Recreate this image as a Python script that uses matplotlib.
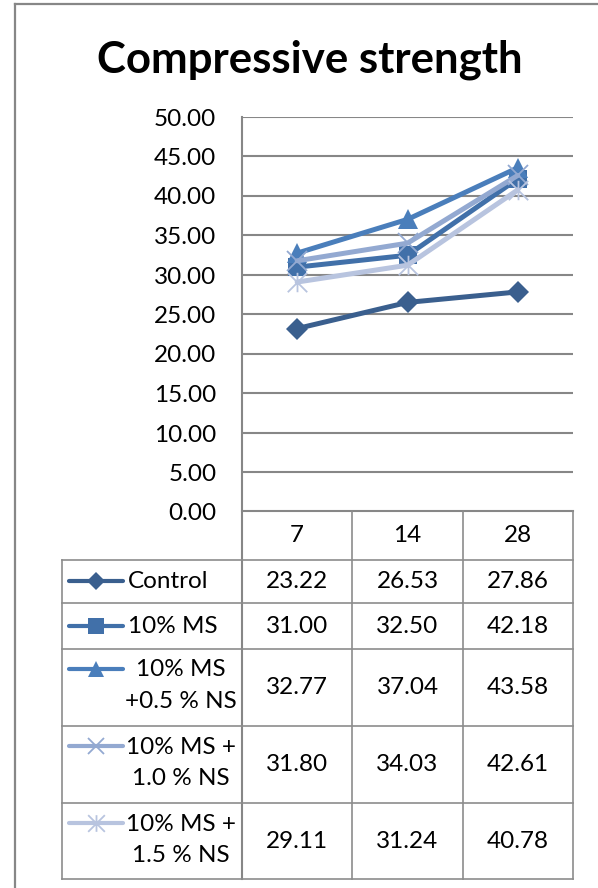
import matplotlib
matplotlib.use("Agg")
import matplotlib.pyplot as plt
from matplotlib.lines import Line2D
from matplotlib.path import Path

plt.rcParams['font.family'] = ['Lato', 'DejaVu Sans']

# ---- data ----
title = "Compressive strength"
categories = ["7", "14", "28"]
series_names = ["Control", "10% MS", "10% MS\n+0.5 % NS", "10% MS +\n1.0 % NS", "10% MS +\n1.5 % NS"]
control = [23.22, 26.53, 27.86]
ms10 = [31.00, 32.50, 42.18]
ms10_ns05 = [32.77, 37.04, 43.58]
ms10_ns10 = [31.80, 34.03, 42.61]
ms10_ns15 = [29.11, 31.24, 40.78]
yticks = [0, 5, 10, 15, 20, 25, 30, 35, 40, 45, 50]

series_values = [control, ms10, ms10_ns05, ms10_ns10, ms10_ns15]

# ---- styles ----
W, H = 598, 888
colors = ["#3A5F8E", "#4170A9", "#4A7EBB", "#93A9D1", "#B8C4DF"]
star = Path([(0, -0.5), (0, 0.5), (-0.5, -0.5), (0.5, 0.5), (-0.5, 0.5), (0.5, -0.5)],
            [Path.MOVETO, Path.LINETO, Path.MOVETO, Path.LINETO, Path.MOVETO, Path.LINETO])
markers = ["D", "s", "^", "x", star]
msizes = [11, 12.5, 14, 14, 14]
msizes_leg = [9, 11.5, 12, 12, 12]
mew = [0, 0, 0, 1.3, 1.3]
grid_c = "#878787"
tab_c = "#8C8C8C"
fs = 17.5


def fx(x):
    return x / W


def fy(y):
    return 1 - y / H


fig = plt.figure(figsize=(W / 100, H / 100), dpi=100)

# plot area
ax_l, ax_r, ax_t, ax_b = 242, 573, 117, 512
ax = fig.add_axes([fx(ax_l), fy(ax_b), (ax_r - ax_l) / W, (ax_b - ax_t) / H])
xs = list(range(len(categories)))
for vals, c, m, ms, ew in zip(series_values, colors, markers, msizes, mew):
    ax.plot(xs, vals, color=c, lw=3.6, marker=m, markersize=ms,
            markerfacecolor=c if ew == 0 else 'none', markeredgecolor=c,
            markeredgewidth=ew if ew else 0.0, solid_capstyle='round', solid_joinstyle='round')
ax.set_xlim(-0.5, len(categories) - 0.5)
ax.set_ylim(0, 50)
ax.set_yticks(yticks)
ax.set_yticklabels([f"{v:.2f}" for v in yticks], fontsize=fs)
ax.tick_params(axis='y', length=0, pad=18.5)
ax.set_xticks([])
for s in ax.spines.values():
    s.set_visible(False)
ax.grid(axis='y', color=grid_c, lw=1.5)
ax.set_axisbelow(True)

# title
fig.text(fx(310), fy(60), title, fontsize=31.5, fontweight='bold', ha='center', va='center')

# outer border
fig.add_artist(Line2D([fx(15), fx(15)], [fy(4), fy(888)], color=grid_c, lw=1.6))
fig.add_artist(Line2D([fx(15), fx(598)], [fy(4), fy(4)], color=grid_c, lw=1.6))

# table
col_x = [242, 352, 463, 573]
row_y = [511, 560, 603, 649, 726, 803, 879]
leg_l = 62


def hline(x0, x1, y, c=tab_c, lw=1.2):
    fig.add_artist(Line2D([fx(x0), fx(x1)], [fy(y), fy(y)], color=c, lw=lw))


def vline(x, y0, y1, c=tab_c, lw=1.2):
    fig.add_artist(Line2D([fx(x), fx(x)], [fy(y0), fy(y1)], color=c, lw=lw))


# y axis line
vline(242, ax_t, row_y[-1], c=grid_c, lw=1.5)
hline(col_x[0], col_x[-1], row_y[0], c=grid_c, lw=1.5)
for y in row_y[1:]:
    hline(leg_l, col_x[-1], y)
vline(leg_l, row_y[1], row_y[-1])
for x in col_x[1:]:
    vline(x, row_y[0], row_y[-1])

# header
for i, cat in enumerate(categories):
    cx = (col_x[i] + col_x[i + 1]) / 2
    fig.text(fx(cx), fy((row_y[0] + row_y[1]) / 2), cat, fontsize=fs, ha='center', va='center')

# rows
for r, (name, vals) in enumerate(zip(series_names, series_values)):
    y0, y1 = row_y[r + 1], row_y[r + 2]
    cy = (y0 + y1) / 2
    for i, v in enumerate(vals):
        cx = (col_x[i] + col_x[i + 1]) / 2
        fig.text(fx(cx), fy(cy), f"{v:.2f}", fontsize=fs, ha='center', va='center')
    lines = name.split("\n")
    if len(lines) == 1:
        key_y = cy
        fig.text(fx(128), fy(cy), name, fontsize=fs, ha='left', va='center')
    else:
        key_y = y0 + 20
        for k, ln in enumerate(lines):
            fig.text(fx(181), fy(y0 + 21 + 31 * k), ln, fontsize=fs, ha='center', va='center')
    c = colors[r]
    ew = mew[r]
    fig.add_artist(Line2D([fx(69), fx(123)], [fy(key_y), fy(key_y)], color=c, lw=3.0,
                          solid_capstyle='round'))
    fig.add_artist(Line2D([fx(96)], [fy(key_y)], color=c, lw=0, marker=markers[r],
                          markersize=msizes_leg[r], markerfacecolor=c if ew == 0 else 'none',
                          markeredgecolor=c, markeredgewidth=ew if ew else 0.0))

fig.savefig("out.png", dpi=100)
